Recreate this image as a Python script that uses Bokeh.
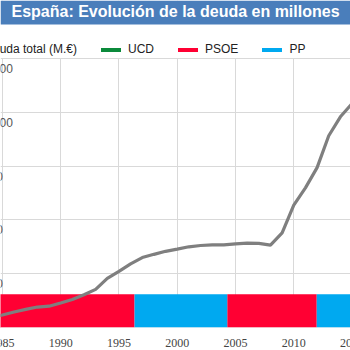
from bokeh.plotting import figure
from bokeh.models import (ColumnDataSource, Range1d, FixedTicker, Legend, LegendItem,
                          BoxAnnotation, Label, LabelSet)
from bokeh.core.properties import value
from bokeh.embed import file_html
from bokeh.resources import INLINE

# ---------------- data ----------------
title_text = "España: Evolución de la deuda en millones"
series_label = "Deuda total (M.€)"

# end-of-year debt stock (M€)
years = list(range(1983, 2016))
deuda = [47000, 58000, 72000, 84000, 95000, 99000, 114000, 130000, 152000, 177000,
         228000, 261000, 296000, 325000, 340000, 354000, 364000, 375000, 381000, 384000,
         384000, 389000, 392000, 391000, 383000, 440000, 569000, 649000, 743000, 891000,
         979000, 1041000, 1073000]

# governments (decimal year of start / end)
gob_partido = ["UCD", "PSOE", "PP", "PSOE", "PP"]
gob_inicio = [1977.46, 1982.92, 1996.34, 2004.29, 2011.97]
gob_fin = [1982.92, 1996.34, 2004.29, 2011.97, 2018.42]
banda_valor = 155000

partidos = ["UCD", "PSOE", "PP"]
colores = {"UCD": "#0b8a3b", "PSOE": "#ff0033", "PP": "#00a9f0"}

x_ticks = [1985, 1990, 1995, 2000, 2005, 2010, 2015]
x_labels = ["1985", "1990", "1995", "2000", "2005", "2010", "2015"]
y_ticks = [0, 250000, 500000, 750000, 1000000, 1250000]
y_labels = ["0", "250.000", "500.000", "750.000", "1.000.000", "1.250.000"]

# ---------------- layout ----------------
W, H = 350, 350
zero_px = 327          # pixel row of value 0
top_px = 58            # pixel row of the top gridline
px_per_year = 11.655
x0_px = 1.9
x_start = x_ticks[0] - x0_px / px_per_year
x_end = x_start + W / px_per_year
units_per_px = y_ticks[-1] / (zero_px - top_px)
y_end = zero_px * units_per_px
y_start = -(H - zero_px) * units_per_px


def px_to_y(px):
    return y_end - px * units_per_px


FONT = "Liberation Sans"

p = figure(width=W, height=H, x_range=Range1d(x_start, x_end),
           y_range=Range1d(y_start, y_end),
           x_axis_location=None, y_axis_location=None, toolbar_location=None,
           output_backend="svg", min_border=0, title=None)
p.outline_line_color = None
p.background_fill_color = "white"
p.border_fill_color = "white"

p.xgrid.ticker = FixedTicker(ticks=x_ticks)
p.ygrid.ticker = FixedTicker(ticks=y_ticks)
p.grid.grid_line_color = "#d9d9d9"
p.grid.grid_line_width = 1

# bands per party
rend = {}
for part in partidos:
    left = [a for a, q in zip(gob_inicio, gob_partido) if q == part]
    right = [b for b, q in zip(gob_fin, gob_partido) if q == part]
    src = ColumnDataSource(dict(left=left, right=right,
                                bottom=[0] * len(left), top=[banda_valor] * len(left)))
    rend[part] = p.quad(left="left", right="right", bottom="bottom", top="top", source=src,
                        fill_color=colores[part], line_color=None)

line_src = ColumnDataSource(dict(x=[y + 1 for y in years], y=deuda))
line_r = p.line("x", "y", source=line_src, line_color="#7f7f7f", line_width=3.2)

# y labels (inside, partially cut by the left edge)
p.text(x=[x_start] * len(y_ticks), y=y_ticks, text=y_labels, x_offset=-41, y_offset=10,
       text_align="left", text_baseline="middle", text_font=value(FONT),
       text_font_size="12px", text_color="#555555")

# white strip under the plot area (hides gridlines there)
p.add_layout(BoxAnnotation(top=0, fill_color="white", fill_alpha=1, line_color=None))

# x labels below the plot area (cut by the canvas edges like the reference)
xlab_src = ColumnDataSource(dict(x=x_ticks, y=[0] * len(x_ticks), text=x_labels))
p.add_layout(LabelSet(x="x", y="y", text="text", source=xlab_src, y_offset=-15,
                      text_align="center", text_baseline="middle", text_font=FONT,
                      text_font_size="12px", text_color="#444444"))

# header
p.add_layout(BoxAnnotation(bottom=px_to_y(57.5), fill_color="white", fill_alpha=1,
                           line_color=None))
p.add_layout(BoxAnnotation(bottom=px_to_y(24), fill_color="#4a7ebb", fill_alpha=1,
                           line_color=None))
p.add_layout(Label(x=(x_start + x_end) / 2, y=px_to_y(11), text=title_text,
                   text_align="center", text_baseline="middle", text_color="white",
                   text_font_size="16px", text_font_style="bold", text_font=FONT))

items = [LegendItem(label=series_label, renderers=[line_r])] + \
        [LegendItem(label=part, renderers=[rend[part]]) for part in partidos]
legend = Legend(items=items, orientation="horizontal", location=(-45.7, H - 56),
                glyph_width=25, glyph_height=5, label_standoff=5, spacing=21,
                padding=0, margin=0, border_line_color=None, background_fill_alpha=0,
                label_text_font_size="12px", label_text_font=FONT,
                label_text_color="#222222")
p.add_layout(legend)

open("out.html", "w").write(file_html(p, INLINE))
